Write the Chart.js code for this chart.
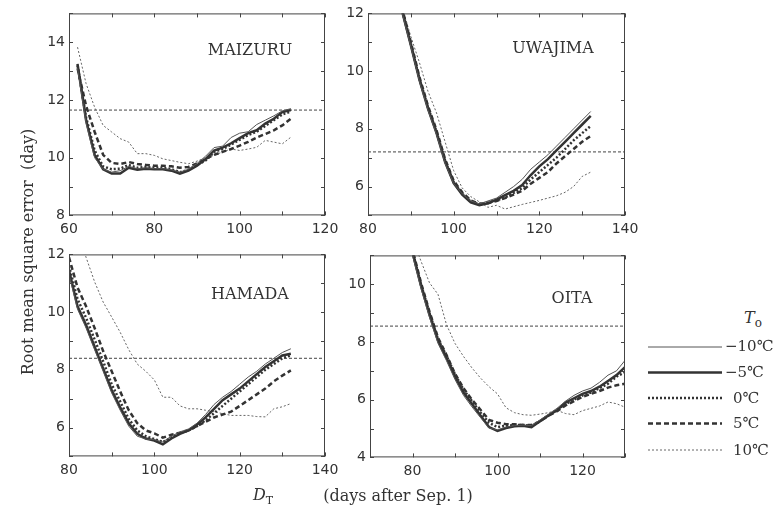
<!DOCTYPE html>
<html>
<head>
<meta charset="utf-8">
<script src="https://cdn.jsdelivr.net/npm/chart.js@4.4.1/dist/chart.umd.min.js"></script>
<style>
  body { margin: 0; background: #fff; width: 777px; height: 510px; position: relative; overflow: hidden;
         font-family: "DejaVu Serif", serif; color: #333; }
  canvas { position: absolute; }
  .t { position: absolute; white-space: nowrap; transform: translate(-50%, -50%); font-size: 16px; }
  .lab { position: absolute; white-space: nowrap; font-size: 15px; transform: translateY(-50%); }
</style>
</head>
<body>
<canvas id="c1" width="320" height="240"></canvas>
<canvas id="c2" width="320" height="240"></canvas>
<canvas id="c3" width="320" height="240"></canvas>
<canvas id="c4" width="320" height="240"></canvas>

<div class="t" style="left:250px;top:49px">MAIZURU</div>
<div class="t" style="left:553px;top:47px">UWAJIMA</div>
<div class="t" style="left:250px;top:293px">HAMADA</div>
<div class="t" style="left:572px;top:297px">OITA</div>

<div class="t" style="left:27px;top:252px;transform:translate(-50%,-50%) rotate(-90deg)">Root mean square error&nbsp;&nbsp;(day)</div>
<div class="t" style="left:263px;top:494px"><i>D</i><span style="font-size:11px;position:relative;top:4px">T</span></div>
<div class="t" style="left:398px;top:495px">(days after Sep. 1)</div>

<div class="t" style="left:753px;top:317px"><i>T</i><span style="font-size:12px;position:relative;top:4px">o</span></div>
<svg style="position:absolute;left:0;top:0" width="777" height="510">
  <g fill="none" stroke="#333">
    <line x1="648" x2="722" y1="347" y2="347" stroke-width="1" stroke="#555"/>
    <line x1="648" x2="722" y1="372.5" y2="372.5" stroke-width="2.5"/>
    <line x1="648" x2="722" y1="398" y2="398" stroke-width="2.5" stroke-dasharray="2 2"/>
    <line x1="648" x2="722" y1="423.5" y2="423.5" stroke-width="2.5" stroke-dasharray="5 3"/>
    <line x1="648" x2="722" y1="450" y2="450" stroke-width="1" stroke="#666" stroke-dasharray="2 2"/>
  </g>
</svg>
<div class="lab" style="left:725px;top:346px">−10℃</div>
<div class="lab" style="left:725px;top:372px">−5℃</div>
<div class="lab" style="left:733px;top:398px">0℃</div>
<div class="lab" style="left:733px;top:423px">5℃</div>
<div class="lab" style="left:733px;top:450px">10℃</div>

<script>
// MAIZURU
const maizuruX = [62, 64, 66, 68, 70, 72, 74, 76, 78, 80, 82, 84, 86, 88, 90, 92, 94, 96, 98, 100, 102, 104, 106, 108, 110, 112];
const maizuruM10 = [13.1, 11.2, 10.0, 9.6, 9.5, 9.55, 9.7, 9.62, 9.65, 9.62, 9.62, 9.58, 9.5, 9.6, 9.8, 10.05, 10.35, 10.4, 10.7, 10.85, 10.9, 11.15, 11.3, 11.45, 11.62, 11.7];
const maizuruM5 = [13.25, 11.3, 10.1, 9.6, 9.45, 9.45, 9.65, 9.58, 9.62, 9.6, 9.6, 9.55, 9.45, 9.55, 9.72, 9.95, 10.25, 10.35, 10.5, 10.68, 10.85, 10.95, 11.18, 11.35, 11.58, 11.65];
const maizuru0 = [13.2, 11.4, 10.25, 9.7, 9.6, 9.62, 9.75, 9.65, 9.68, 9.65, 9.65, 9.6, 9.5, 9.58, 9.75, 9.9, 10.2, 10.3, 10.45, 10.62, 10.78, 10.9, 11.1, 11.3, 11.5, 11.6];
const maizuru5 = [13.1, 11.8, 10.9, 10.1, 9.82, 9.78, 9.85, 9.78, 9.75, 9.72, 9.72, 9.7, 9.65, 9.68, 9.8, 9.95, 10.1, 10.2, 10.3, 10.42, 10.55, 10.7, 10.82, 10.95, 11.12, 11.35];
const maizuru10 = [13.83, 12.57, 11.75, 11.12, 10.89, 10.66, 10.54, 10.14, 10.14, 10.08, 9.96, 9.9, 9.84, 9.79, 9.88, 10.0, 10.08, 10.2, 10.3, 10.25, 10.3, 10.36, 10.6, 10.54, 10.48, 10.71];
const maizuruRef = 11.65;

// UWAJIMA
const uwajimaX = [86, 88, 90, 92, 94, 96, 98, 100, 102, 104, 106, 108, 110, 112, 114, 116, 118, 120, 122, 124, 126, 128, 130, 132];
const uwajimaM10 = [12.85, 12.0, 10.85, 9.65, 8.65, 7.8, 6.8, 6.1, 5.75, 5.5, 5.4, 5.5, 5.6, 5.8, 6.0, 6.25, 6.6, 6.85, 7.1, 7.4, 7.7, 8.0, 8.3, 8.6];
const uwajimaM5 = [12.9, 12.05, 10.9, 9.7, 8.7, 7.85, 6.85, 6.12, 5.72, 5.45, 5.35, 5.42, 5.55, 5.7, 5.85, 6.05, 6.4, 6.7, 6.95, 7.25, 7.55, 7.85, 8.15, 8.45];
const uwajima0 = [12.95, 12.1, 10.95, 9.75, 8.75, 7.9, 6.9, 6.15, 5.75, 5.48, 5.38, 5.45, 5.52, 5.62, 5.78, 5.95, 6.25, 6.5, 6.75, 7.0, 7.3, 7.6, 7.85, 8.1];
const uwajima5 = [13.0, 12.15, 11.0, 9.8, 8.8, 7.95, 6.95, 6.2, 5.8, 5.52, 5.4, 5.42, 5.5, 5.6, 5.72, 5.85, 6.1, 6.3, 6.5, 6.8, 7.05, 7.3, 7.55, 7.75];
const uwajima10 = [13.2, 12.2, 11.2, 10.3, 9.3, 8.55, 7.55, 6.55, 5.95, 5.65, 5.47, 5.28, 5.35, 5.22, 5.3, 5.38, 5.45, 5.52, 5.6, 5.68, 5.8, 6.0, 6.35, 6.5];
const uwajimaRef = 7.2;

// HAMADA
const hamadaX = [80, 82, 84, 86, 88, 90, 92, 94, 96, 98, 100, 102, 104, 106, 108, 110, 112, 114, 116, 118, 120, 122, 124, 126, 128, 130, 132];
const hamadaM10 = [11.3, 10.1, 9.45, 8.7, 7.95, 7.2, 6.6, 6.05, 5.7, 5.6, 5.58, 5.5, 5.7, 5.85, 5.95, 6.15, 6.45, 6.8, 7.05, 7.25, 7.5, 7.75, 7.95, 8.2, 8.4, 8.6, 8.73];
const hamadaM5 = [11.45, 10.2, 9.55, 8.8, 8.05, 7.3, 6.7, 6.15, 5.78, 5.62, 5.55, 5.42, 5.62, 5.78, 5.9, 6.1, 6.35, 6.65, 6.95, 7.15, 7.35, 7.6, 7.85, 8.1, 8.3, 8.5, 8.56];
const hamada0 = [11.6, 10.45, 9.8, 9.05, 8.3, 7.5, 6.9, 6.3, 5.9, 5.7, 5.6, 5.5, 5.65, 5.8, 5.9, 6.05, 6.25, 6.5, 6.75, 7.0, 7.25, 7.5, 7.75, 8.0, 8.2, 8.4, 8.5];
const hamada5 = [11.9, 10.85, 10.2, 9.45, 8.65, 7.95, 7.25, 6.6, 6.15, 5.9, 5.8, 5.65, 5.75, 5.82, 5.9, 6.05, 6.2, 6.35, 6.45, 6.55, 6.75, 6.95, 7.15, 7.35, 7.6, 7.8, 7.98];
const hamada10 = [13.5, 12.8, 11.9, 11.05, 10.35, 9.83, 9.3, 8.7, 8.2, 7.95, 7.65, 7.05, 7.05, 6.75, 6.65, 6.65, 6.6, 6.55, 6.48, 6.42, 6.42, 6.42, 6.38, 6.37, 6.65, 6.72, 6.83];
const hamadaRef = 8.4;

// OITA
const oitaX = [78, 80, 82, 84, 86, 88, 90, 92, 94, 96, 98, 100, 102, 104, 106, 108, 110, 112, 114, 116, 118, 120, 122, 124, 126, 128, 130];
const oitaM10 = [12.2, 11.0, 9.85, 8.85, 7.95, 7.35, 6.7, 6.15, 5.75, 5.38, 5.02, 4.95, 5.05, 5.1, 5.12, 5.1, 5.3, 5.5, 5.7, 5.95, 6.15, 6.3, 6.4, 6.6, 6.85, 7.0, 7.36];
const oitaM5 = [12.3, 11.1, 9.95, 8.95, 8.05, 7.45, 6.8, 6.25, 5.85, 5.45, 5.05, 4.92, 5.02, 5.08, 5.1, 5.05, 5.25, 5.45, 5.63, 5.9, 6.05, 6.2, 6.3, 6.45, 6.65, 6.85, 7.13];
const oita0 = [12.35, 11.15, 10.0, 9.0, 8.1, 7.52, 6.88, 6.35, 5.95, 5.55, 5.2, 5.05, 5.1, 5.12, 5.12, 5.1, 5.25, 5.45, 5.65, 5.85, 6.0, 6.15, 6.25, 6.4, 6.55, 6.8, 6.95];
const oita5 = [12.4, 11.2, 10.05, 9.05, 8.15, 7.55, 6.9, 6.4, 6.0, 5.65, 5.3, 5.2, 5.15, 5.15, 5.12, 5.12, 5.25, 5.45, 5.6, 5.8, 5.95, 6.1, 6.2, 6.3, 6.42, 6.5, 6.55];
const oita10 = [12.6, 11.6, 10.8, 10.05, 9.65, 8.6, 7.95, 7.5, 7.1, 6.75, 6.45, 6.2, 5.72, 5.55, 5.48, 5.46, 5.5, 5.55, 5.63, 5.52, 5.48, 5.62, 5.7, 5.78, 5.92, 5.86, 5.74];
const oitaRef = 8.55;

const seriesLabels = ['−10℃', '−5℃', '0℃', '5℃', '10℃'];

// line look per series, same order as seriesLabels
const styles = [
    { borderColor: '#555', borderWidth: 1, borderDash: [] },
    { borderColor: '#333', borderWidth: 2.5, borderDash: [] },
    { borderColor: '#333', borderWidth: 2.5, borderDash: [2, 2] },
    { borderColor: '#333', borderWidth: 2.5, borderDash: [5, 3] },
    { borderColor: '#666', borderWidth: 1, borderDash: [2, 2] }
];

// box round the plot with small inward ticks on all four sides
const frame = {
    id: 'frame',
    afterDatasetsDraw(chart) {
        const { ctx, chartArea: a, scales: { x, y } } = chart;
        ctx.save();
        ctx.strokeStyle = '#444';
        ctx.lineWidth = 1;
        ctx.strokeRect(a.left + 0.5, a.top + 0.5, a.width - 1, a.height - 1);
        ctx.beginPath();
        x.ticks.forEach(t => {
            const px = Math.round(x.getPixelForValue(t.value)) + 0.5;
            ctx.moveTo(px, a.top); ctx.lineTo(px, a.top + 4);
            ctx.moveTo(px, a.bottom); ctx.lineTo(px, a.bottom - 4);
        });
        y.ticks.forEach(t => {
            const py = Math.round(y.getPixelForValue(t.value)) + 0.5;
            ctx.moveTo(a.left, py); ctx.lineTo(a.left + 4, py);
            ctx.moveTo(a.right, py); ctx.lineTo(a.right - 4, py);
        });
        ctx.stroke();
        ctx.restore();
    }
};

// box = [left, top, width, height] of the plot area on the page
function makePanel(id, box, xs, series, ref, xMin, xMax, yMin, yMax) {
    const datasets = series.map((ys, i) => Object.assign({
        label: seriesLabels[i],
        data: xs.map((x, j) => ({ x: x, y: ys[j] })),
        pointRadius: 0,
        tension: 0,
        fill: false
    }, styles[i]));
    datasets.push({
        label: 'ref',
        data: [{ x: xMin, y: ref }, { x: xMax, y: ref }],
        borderColor: '#444',
        borderWidth: 1,
        borderDash: [3, 2],
        pointRadius: 0
    });
    const tickFont = { family: 'DejaVu Sans', size: 14 };
    const canvas = document.getElementById(id);
    const chart = new Chart(canvas, {
        type: 'line',
        data: { datasets: datasets },
        plugins: [frame],
        options: {
            responsive: false,
            maintainAspectRatio: false,
            animation: false,
            layout: { padding: { top: 8, right: 20, left: 0, bottom: 0 } },
            plugins: { legend: { display: false }, tooltip: { enabled: false } },
            scales: {
                x: {
                    type: 'linear', min: xMin, max: xMax,
                    grid: { display: false, drawTicks: false }, border: { display: false },
                    ticks: { stepSize: 10, autoSkip: false, maxRotation: 0, padding: 6, color: '#333', font: tickFont,
                             callback: v => (v % 20 === 0 ? v : '') },
                    afterFit: s => { s.height = 28; }
                },
                y: {
                    min: yMin, max: yMax,
                    grid: { display: false, drawTicks: false }, border: { display: false },
                    ticks: { stepSize: 1, autoSkip: false, padding: 4, color: '#333', font: tickFont,
                             callback: v => (v % 2 === 0 ? v : '') },
                    afterFit: s => { s.width = 40; }
                }
            }
        }
    });
    // size the canvas so the plot area lands exactly on the box
    const a = chart.chartArea;
    chart.resize(chart.width + box[2] - (a.right - a.left), chart.height + box[3] - (a.bottom - a.top));
    const b = chart.chartArea;
    canvas.style.left = (box[0] - b.left) + 'px';
    canvas.style.top = (box[1] - b.top) + 'px';
}

makePanel('c1', [69, 13, 256, 202], maizuruX, [maizuruM10, maizuruM5, maizuru0, maizuru5, maizuru10], maizuruRef, 60, 120, 8, 15);
makePanel('c2', [368, 13, 257, 202], uwajimaX, [uwajimaM10, uwajimaM5, uwajima0, uwajima5, uwajima10], uwajimaRef, 80, 140, 5, 12);
makePanel('c3', [69, 254, 256, 202], hamadaX, [hamadaM10, hamadaM5, hamada0, hamada5, hamada10], hamadaRef, 80, 140, 5, 12);
makePanel('c4', [370, 255, 255, 202], oitaX, [oitaM10, oitaM5, oita0, oita5, oita10], oitaRef, 70, 130, 4, 11);
</script>
</body>
</html>
